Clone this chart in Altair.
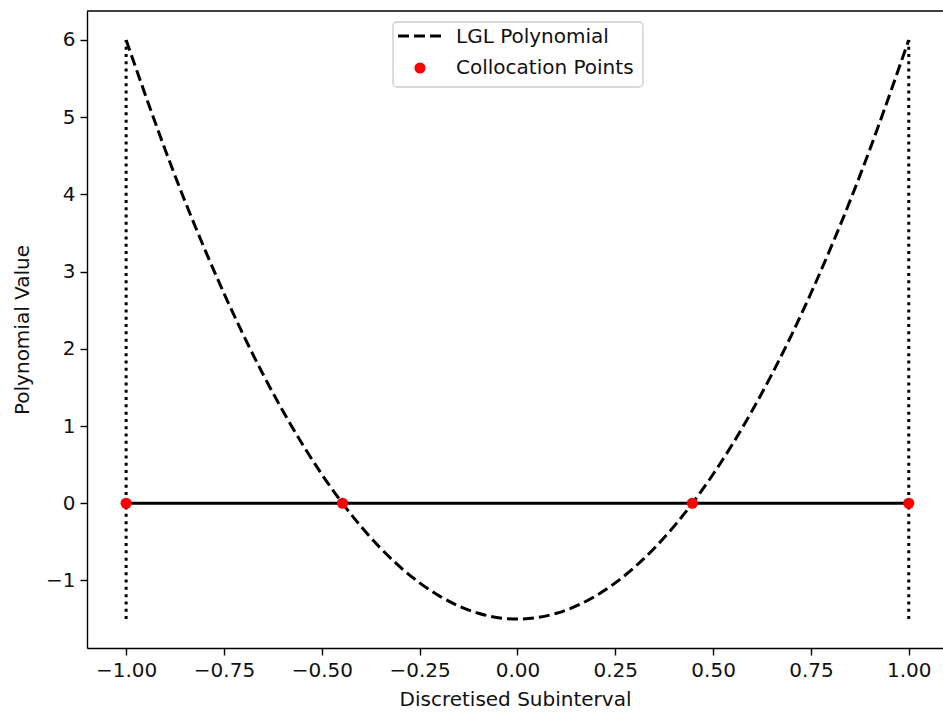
import altair as alt
import pandas as pd

# LGL polynomial sampled along the subinterval
curve_x = [-1.0, -0.9, -0.8, -0.7, -0.6, -0.5, -0.4, -0.3, -0.2, -0.1, 0.0,
           0.1, 0.2, 0.3, 0.4, 0.5, 0.6, 0.7, 0.8, 0.9, 1.0]
curve_y = [6.0, 4.575, 3.3, 2.175, 1.2, 0.375, -0.3, -0.825, -1.2, -1.425, -1.5,
           -1.425, -1.2, -0.825, -0.3, 0.375, 1.2, 2.175, 3.3, 4.575, 6.0]

# collocation points (roots on the zero line)
colloc_x = [-1.0, -0.447, 0.447, 1.0]
colloc_y = [0.0, 0.0, 0.0, 0.0]

# interval bounds drawn as dotted verticals
bound_x = [-1.0, 1.0]
bound_lo = [-1.5, -1.5]
bound_hi = [6.0, 6.0]

legend_labels = ["LGL Polynomial", "Collocation Points"]

x_ticks = [-1.0, -0.75, -0.5, -0.25, 0.0, 0.25, 0.5, 0.75, 1.0]
y_ticks = [-1, 0, 1, 2, 3, 4, 5, 6]

FONT = "DejaVu Sans"
FS = 20
W, H = 856, 637

curve_df = pd.DataFrame({"x": curve_x, "y": curve_y})
colloc_df = pd.DataFrame({"x": colloc_x, "y": colloc_y})
bound_df = pd.DataFrame({"x": bound_x, "lo": bound_lo, "hi": bound_hi})
zero_df = pd.DataFrame({"x": [colloc_x[0]], "x2": [colloc_x[-1]], "y": [0.0]})

xs = alt.Scale(domain=[-1.1, 1.0875], nice=False, zero=False)
ys = alt.Scale(domain=[-1.875, 6.375], nice=False, zero=False)

x_axis = alt.Axis(values=x_ticks, format=".2f", title="Discretised Subinterval")
y_axis = alt.Axis(values=y_ticks, format="d", title="Polynomial Value")

curve = alt.Chart(curve_df).mark_line(
    color="black", strokeWidth=3, strokeDash=[11, 5], interpolate="natural", clip=True
).encode(
    x=alt.X("x:Q", scale=xs, axis=x_axis),
    y=alt.Y("y:Q", scale=ys, axis=y_axis),
)

bounds = alt.Chart(bound_df).mark_rule(
    color="black", strokeWidth=3, strokeDash=[3, 4.3], strokeCap="butt"
).encode(
    x=alt.X("x:Q", scale=xs),
    y=alt.Y("lo:Q", scale=ys),
    y2="hi:Q",
)

zero_line = alt.Chart(zero_df).mark_rule(color="black", strokeWidth=3).encode(
    x=alt.X("x:Q", scale=xs),
    x2="x2:Q",
    y=alt.Y("y:Q", scale=ys),
)

points = alt.Chart(colloc_df).mark_circle(color="red", size=125, opacity=1).encode(
    x=alt.X("x:Q", scale=xs),
    y=alt.Y("y:Q", scale=ys),
)

one = pd.DataFrame({"k": [0]})

# top edge of the frame (left and bottom come from the axis domains)
top_edge = alt.Chart(one).mark_rule(color="black", strokeWidth=1.4).encode(
    x=alt.value(0), x2=alt.value(W), y=alt.value(0)
)

# legend drawn as a boxed overlay near the top centre
leg_box = alt.Chart(one).mark_rect(
    fill="white", fillOpacity=0.85, stroke="#cccccc", strokeWidth=1.3, cornerRadius=4
).encode(x=alt.value(306), x2=alt.value(556), y=alt.value(11), y2=alt.value(76))
leg_line = alt.Chart(one).mark_rule(
    color="black", strokeWidth=3, strokeDash=[11, 5]
).encode(x=alt.value(311), x2=alt.value(354), y=alt.value(25))
leg_dot = alt.Chart(one).mark_circle(color="red", size=125, opacity=1).encode(
    x=alt.value(333), y=alt.value(57)
)
leg_text1 = alt.Chart(one).mark_text(
    text=legend_labels[0], align="left", baseline="middle", font=FONT, fontSize=FS, color="#111111"
).encode(x=alt.value(369), y=alt.value(26))
leg_text2 = alt.Chart(one).mark_text(
    text=legend_labels[1], align="left", baseline="middle", font=FONT, fontSize=FS, color="#111111"
).encode(x=alt.value(369), y=alt.value(57))

chart = alt.layer(
    curve, bounds, zero_line, points, top_edge,
    leg_box, leg_line, leg_dot, leg_text1, leg_text2
).properties(
    width=W,
    height=H,
    autosize=alt.AutoSizeParams(type="none"),
    padding={"left": 87, "top": 11, "right": 0, "bottom": 64},
    background="white",
).configure_view(
    strokeWidth=0
).configure_axis(
    grid=False,
    domain=True,
    domainColor="black",
    domainWidth=1.4,
    labelFont=FONT,
    labelFontSize=FS,
    labelColor="#111111",
    titleFont=FONT,
    titleFontSize=FS,
    titleFontWeight="normal",
    titleColor="#111111",
    tickColor="black",
    tickSize=7,
    tickWidth=1.4,
    labelPadding=5,
).configure_axisX(
    titlePadding=9,
).configure_axisY(
    titlePadding=13,
    labelFlush=False,
)

chart.save("out.html", embed_options={"renderer": "svg", "actions": False})
